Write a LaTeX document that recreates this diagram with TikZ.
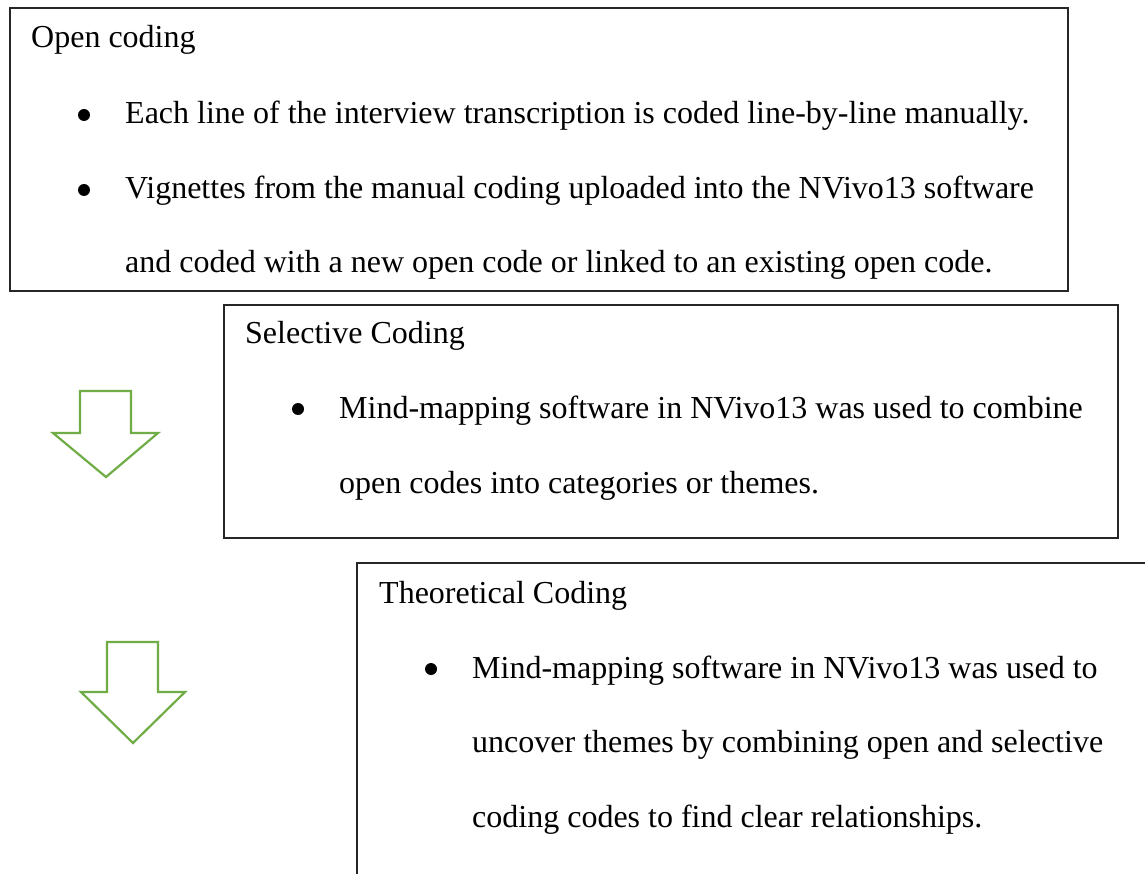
\documentclass[tikz,border=0pt]{standalone}
\usepackage{fontspec}
\setmainfont{Liberation Serif}
\definecolor{arrowgreen}{HTML}{70AD47}
\definecolor{boxline}{HTML}{262626}
\tikzset{
  boxframe/.style={draw=boxline, line width=1.3pt},
  txt/.style={anchor=base west, inner sep=0pt, font=\fontsize{32}{36}\selectfont},
  bul/.style={circle, fill=black, inner sep=0pt, minimum size=12pt},
  hollowarrow/.style={draw=arrowgreen, line width=2.2pt, fill=white, line join=miter},
}
\begin{document}
\begin{tikzpicture}[x=1pt,y=-1pt]
\useasboundingbox (0,0) rectangle (1145,874);
\clip (0,0) rectangle (1145,874);
\fill[white] (0,0) rectangle (1145,874);

% Box 1: Open coding
\draw[boxframe] (10,8) rectangle (1068,291);
\node[txt] (t1) at (31,48) {Open coding};
\node[bul] (b1a) at (84,115) {};
\node[txt] (l1a) at (125,124) {Each line of the interview transcription is coded line-by-line manually.};
\node[bul] (b1b) at (84,190) {};
\node[txt] (l1b) at (125,199) {Vignettes from the manual coding uploaded into the NVivo13 software};
\node[txt] (l1c) at (125,273) {and coded with a new open code or linked to an existing open code.};

% Box 2: Selective Coding
\draw[boxframe] (224,305) rectangle (1118,538);
\node[txt] (t2) at (245,343) {Selective Coding};
\node[bul] (b2a) at (298,409) {};
\node[txt] (l2a) at (339,418) {Mind-mapping software in NVivo13 was used to combine};
\node[txt] (l2b) at (339,493) {open codes into categories or themes.};

% Box 3: Theoretical Coding (runs off the bottom and right edges)
\draw[boxframe] (357,890) -- (357,563) -- (1160,563);
\node[txt] (t3) at (379,603) {Theoretical Coding};
\node[bul] (b3a) at (431,669) {};
\node[txt] (l3a) at (472,678) {Mind-mapping software in NVivo13 was used to};
\node[txt] (l3b) at (472,752) {uncover themes by combining open and selective};
\node[txt] (l3c) at (472,827) {coding codes to find clear relationships.};

% Hollow down arrows
\draw[hollowarrow] (80,391) -- (131,391) -- (131,433) -- (158,433) -- (106,477)
  -- (53,433) -- (80,433) -- cycle;
\draw[hollowarrow] (107,642) -- (158,642) -- (158,692) -- (185,692) -- (133,743)
  -- (81,692) -- (107,692) -- cycle;
\end{tikzpicture}
\end{document}
